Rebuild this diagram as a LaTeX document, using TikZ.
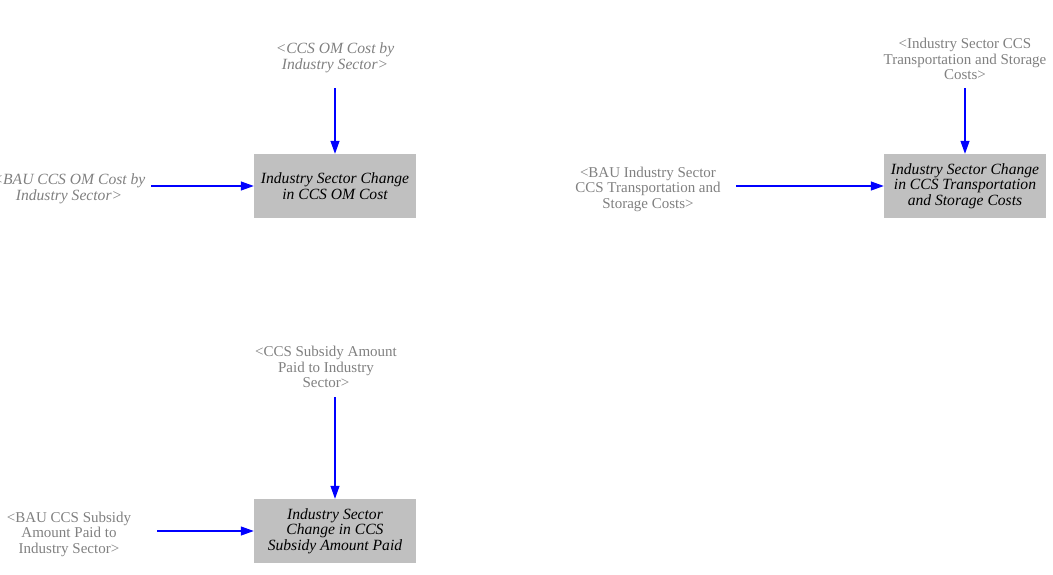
\documentclass[tikz,border=0pt]{standalone}
\usepackage{fontspec}
\setmainfont{Liberation Serif}
\usetikzlibrary{arrows.meta,positioning}

\definecolor{boxgray}{RGB}{192,192,192}
\definecolor{shadowgray}{RGB}{128,128,128}
\definecolor{linkblue}{RGB}{0,0,255}

\begin{document}
\begin{tikzpicture}[
x=1pt,y=-1pt,
var/.style={fill=boxgray,minimum width=162pt,minimum height=64pt,inner sep=2pt,align=center,font=\fontsize{15.6}{15.5}\selectfont\itshape},
shadow/.style={align=center,text=shadowgray,font=\fontsize{15}{15.5}\selectfont},
shadowit/.style={shadow,font=\fontsize{15.6}{15.5}\selectfont\itshape},
arrow/.style={-{Triangle[length=13pt,width=9pt]},draw=linkblue,fill=linkblue,line width=1.2pt}
]
\useasboundingbox (0,0) rectangle (1053,574);
\node[var] (om) at (335,186) {Industry Sector Change\\in CCS OM Cost};
\node[var] (ts) at (965,186) {Industry Sector Change\\in CCS Transportation\\and Storage Costs};
\node[var] (sub) at (335,531) {Industry Sector\\Change in CCS\\Subsidy Amount Paid};
\node[shadowit] (omin) at (335,58) {<CCS OM Cost by\\Industry Sector>};
\node[shadowit] (bauom) at (69,189) {<BAU CCS OM Cost by\\Industry Sector>};
\node[shadow] (tsin) at (965,59) {<Industry Sector CCS\\Transportation and Storage\\Costs>};
\node[shadow] (bauts) at (648,189) {<BAU Industry Sector\\CCS Transportation and\\Storage Costs>};
\node[shadow] (subin) at (326,367) {<CCS Subsidy Amount\\Paid to Industry\\Sector>};
\node[shadow] (bausub) at (69,534) {<BAU CCS Subsidy\\Amount Paid to\\Industry Sector>};
\draw[arrow,shorten <=30pt] (omin.center) -- (om);
\draw[arrow,shorten <=82pt] (bauom.center |- om) -- (om);
\draw[arrow,shorten <=29pt] (tsin.center) -- (ts);
\draw[arrow,shorten <=88pt] (bauts.center |- ts) -- (ts);
\draw[arrow,shorten <=30pt] (subin.center -| sub) -- (sub);
\draw[arrow,shorten <=88pt] (bausub.center |- sub) -- (sub);
\end{tikzpicture}
\end{document}
